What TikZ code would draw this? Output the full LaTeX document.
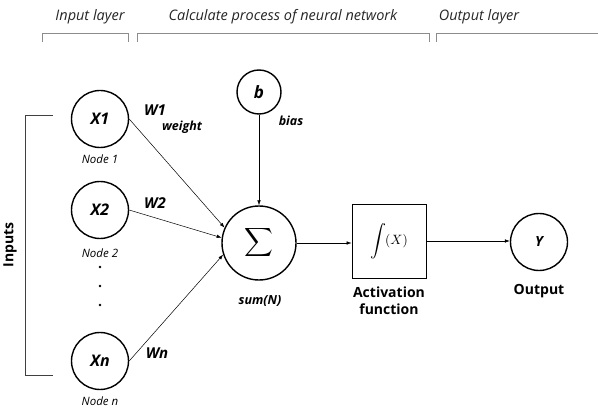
\documentclass[tikz,border=0pt]{standalone}
\usepackage{graphicx}
\usepackage{fontspec}
\newfontfamily\lblfont{Open Sans}
\usetikzlibrary{arrows.meta}
\tikzset{
  neuron/.style={circle, draw, line width=1.4pt, minimum size=57pt, inner sep=0pt},
  link/.style={-{Latex[length=5pt,width=3.6pt]}, line width=0.5pt},
  bracketline/.style={draw=black!45, line width=0.8pt},
  header/.style={font=\lblfont\itshape\fontsize{14.5}{16}\selectfont, text=black!85},
  bi/.style={font=\lblfont\bfseries\itshape\fontsize{#1}{#1}\selectfont},
  it/.style={font=\lblfont\itshape\fontsize{11.5}{13}\selectfont},
  bd/.style={font=\lblfont\bfseries\fontsize{14}{17}\selectfont, align=center}
}
\begin{document}
\begin{tikzpicture}[x=1pt, y=-1pt]
  \useasboundingbox (0,0) rectangle (598,409);

  % layer headings and their brackets
  \node[header] (hin)  at (90,17)  {Input layer};
  \node[header] (hmid) at (283,17) {Calculate process of neural network};
  \node[header] (hout) at (479,17) {Output layer};
  \draw[bracketline] (42,42) |- (128,33) -- (128,42);
  \draw[bracketline] (137,42) |- (429,33) -- (429,42);
  \draw[bracketline] (436,42) |- (600,33);

  % input neurons
  \node[neuron] (x1) at (100,119) {};
  \node[bi=16] at (x1) {X1};
  \node[neuron] (x2) at (100,210) {};
  \node[bi=16] at (x2) {X2};
  \node[neuron] (xn) at (100,361) {};
  \node[bi=16] at (xn) {Xn};
  \node[it] (n1) at (100,159) {Node 1};
  \node[it] (n2) at (100,253) {Node 2};
  \node[it] (nn) at (100,401) {Node n};
  \foreach \yy/\nm in {267/d1,286/d2,305/d3}
    \fill (100,\yy) circle (1.3pt) coordinate (\nm);

  % bracket grouping the inputs
  \coordinate (ib1) at (53,116);
  \coordinate (ib2) at (53,375);
  \draw[line width=1pt, black!75] (ib1) -| (25,375) -- (ib2);
  \node[bd, rotate=90] (inputs) at (10,245) {Inputs};

  % bias and summation
  \node[neuron, minimum size=44pt] (b) at (259,92) {};
  \node[bi=17] at (b) {b};
  \node[bi=12.5] (bias) at (291,121) {bias};
  \node[neuron, minimum size=74pt] (sum) at (259,243)
    {\scalebox{2}{$\displaystyle\sum$}};
  \node[bi=12.5] (sumn) at (260,301) {sum(N)};

  % weights
  \node[bi=15] (w1) at (155,110) {W1};
  \node[bi=12.5] (wt) at (182,127) {weight};
  \node[bi=15] (w2) at (155,203) {W2};
  \node[bi=15] (wn) at (157,353) {Wn};

  % activation and output
  \node[draw, line width=0.9pt, minimum size=74pt, inner sep=0pt] (act) at (389,241)
    {\scalebox{1.6}{$\displaystyle\int$}\kern-1pt\scalebox{1.35}{$(X)$}};
  \node[bd] (actl) at (389,301) {Activation\\function};
  \node[neuron] (y) at (539,242) {};
  \node[bi=14] at (y) {Y};
  \node[bd] (outl) at (539,291) {Output};

  % connections
  \draw[link] (x1.east) -- (sum.156);
  \draw[link] (x2.east) -- (sum.172);
  \draw[link] (xn.east) -- (sum.198);
  \draw[link] (b) -- (sum);
  \draw[link] (sum.east) -- (sum.east -| act.west);
  \draw[link] (act.east) -- (act.east -| y.west);
\end{tikzpicture}
\end{document}
